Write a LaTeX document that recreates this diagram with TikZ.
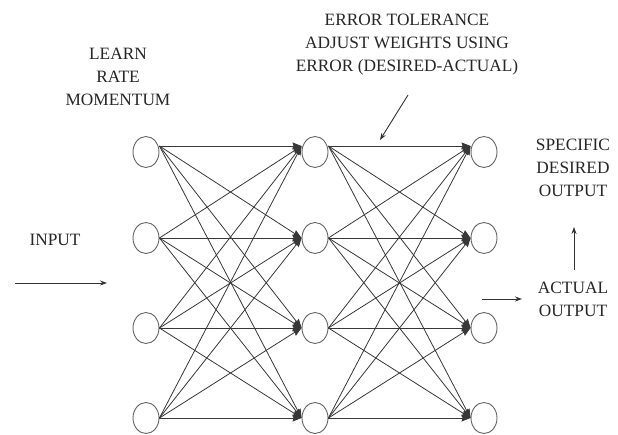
\documentclass[tikz,border=0pt]{standalone}
\usepackage{fontspec}
\setmainfont{Liberation Serif}
\newfontfamily\lblfont{Liberation Serif}
\usetikzlibrary{shapes.geometric,arrows.meta}
\begin{document}
\begin{tikzpicture}[x=1pt,y=-1pt,
  neuron/.style={ellipse,draw=black!60,line width=0.9pt,minimum width=26pt,minimum height=31pt,inner sep=0pt},
  wire/.style={draw=black!78,line width=0.8pt,-{Stealth[length=9pt,width=7pt,inset=1pt]}},
  lbl/.style={align=center,font=\lblfont\fontsize{17.3}{23}\selectfont,text=black!85,inner sep=0pt},
  ptr/.style={draw=black!80,line width=0.9pt,-{Stealth[length=7pt,width=5pt]}}]
\useasboundingbox (0,0) rectangle (618,435);
\fill[white] (0,0) rectangle (618,435);

% neurons
\foreach \c/\x in {a/146,b/315,c/484}{
  \foreach \r/\y in {1/152,2/238,3/328,4/418}{
    \node[neuron] (\c\r) at (\x,\y) {};
  }
}
% attachment points
\foreach \c in {a,b,c}{
  \coordinate (o\c1) at ([yshift=6pt]\c1.east);
  \coordinate (i\c1) at ([yshift=6pt]\c1.west);
  \foreach \r in {2,3,4}{
    \coordinate (o\c\r) at (\c\r.east);
    \coordinate (i\c\r) at (\c\r.west);
  }
}
% connections
\foreach \r in {1,...,4}{
  \foreach \s in {1,...,4}{
    \draw[wire] (oa\r) -- (ib\s);
    \draw[wire] (ob\r) -- (ic\s);
  }
}

% labels
\node[lbl] (learn) at (118,77) {LEARN\\RATE\\MOMENTUM};
\node[lbl] (err) at (407,45) {ERROR TOLERANCE\\ADJUST WEIGHTS USING\\ERROR (DESIRED-ACTUAL)};
\node[lbl] (input) at (55,240) {INPUT};
\node[lbl] (desired) at (573,168) {SPECIFIC\\DESIRED\\OUTPUT};
\node[lbl] (actual) at (573,299) {ACTUAL\\OUTPUT};

% pointer arrows
\coordinate (inS) at (15,283);
\coordinate (inE) at (107,283);
\draw[ptr] (inS) -- (inE);
\coordinate (outS) at (482,299);
\coordinate (outE) at (522,299);
\draw[ptr] (outS) -- (outE);
\coordinate (upS) at (574,270);
\coordinate (upE) at (574,227);
\draw[ptr] (upS) -- (upE);
\coordinate (errS) at (408,95);
\coordinate (errE) at (380,140);
\draw[ptr] (errS) -- (errE);
\end{tikzpicture}
\end{document}
